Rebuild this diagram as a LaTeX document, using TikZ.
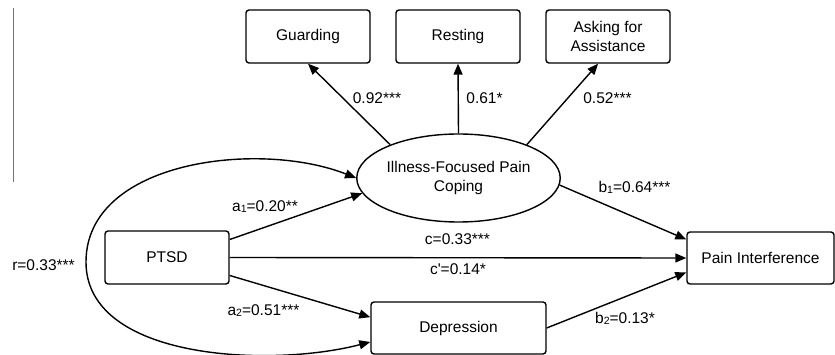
\documentclass[tikz,border=0pt]{standalone}
\usepackage{fontspec}
\setmainfont{Liberation Sans}
\usetikzlibrary{arrows.meta,shapes.geometric}
\newcommand{\mysub}[1]{\raisebox{-0.8pt}{\fontsize{10.5}{10.5}\selectfont #1}}
\begin{document}
\begin{tikzpicture}[x=1pt,y=-1pt,
  font=\fontsize{15.5}{18.5}\selectfont,
  box/.style={draw, rounded corners=3pt, line width=1.4pt, minimum width=124pt, minimum height=53pt, inner sep=0pt, align=center},
  arr/.style={-{Triangle[length=11pt,width=9pt]}, line width=1.4pt},
  darr/.style={{Triangle[length=11pt,width=9pt]}-{Triangle[length=11pt,width=9pt]}, line width=1.4pt},
  lab/.style={anchor=base, inner sep=0pt}]
\useasboundingbox (0,0) rectangle (835,355);
% side rule
\coordinate (rt) at (13,8);
\coordinate (rb) at (13,182);
\draw[gray!90!black, line width=1pt] (rt) -- (rb);
% nodes
\node[box] (guard) at (308,36.5) {Guarding};
\node[box] (rest) at (458,36.5) {Resting};
\node[box] (ask) at (608,36.5) {Asking for\\Assistance};
\node[draw, ellipse, line width=1.4pt, minimum width=193pt, minimum height=88pt, inner sep=0pt, align=center] (ell) at (458.5,178) {Illness-Focused Pain\\Coping};
\node[box] (ptsd) at (167,257.5) {PTSD};
\node[box, minimum width=147pt, minimum height=52pt] (pain) at (760.5,258) {Pain Interference};
\node[box, minimum width=175pt, minimum height=52pt] (dep) at (458.5,328) {Depression};
% connectors
\draw[arr] (ell.154) -- (guard.south);
\draw[arr] (ell.north) -- (rest.south);
\draw[arr] (ell.26) -- (ask.250);
\draw[arr] (ell.356) -- (pain.166);
\draw[arr] (ptsd.16) -- (ell.189);
\draw[arr] (ptsd.east) -- (pain.west);
\draw[arr] (ptsd.344) -- (dep.173);
\draw[arr] (dep.east) -- (pain.191);
\draw[darr] (ell.west) .. controls (260,140) and (86,160) .. (86,262)
  .. controls (86,360) and (270,368) .. (dep.189);
% labels
\node[lab] (l1) at (377,103.5) {0.92***};
\node[lab] (l2) at (484.5,103.5) {0.61*};
\node[lab] (l3) at (607.5,103.5) {0.52***};
\node[lab] (la1) at (265,211.5) {a\mysub{1}=0.20**};
\node[lab] (lb1) at (634.5,192.5) {b\mysub{1}=0.64***};
\node[lab] (lc) at (457.5,244.5) {c=0.33***};
\node[lab] (lcp) at (458,274.5) {c\textquotesingle=0.14*};
\node[lab] (la2) at (263.5,316) {a\mysub{2}=0.51***};
\node[lab] (lb2) at (625,323.5) {b\mysub{2}=0.13*};
\node[lab] (lr) at (43.5,270.5) {r=0.33***};
\end{tikzpicture}
\end{document}
